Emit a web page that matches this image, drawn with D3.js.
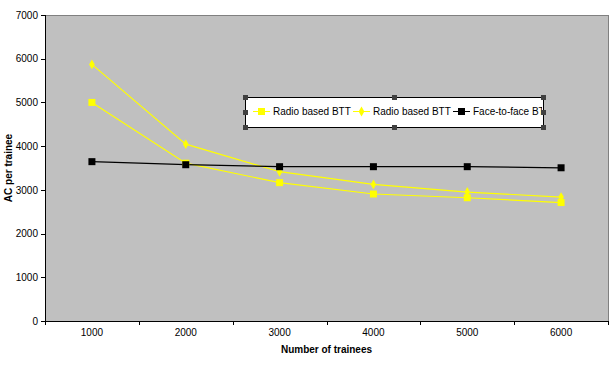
<!DOCTYPE html>
<html>
<head>
<meta charset="utf-8">
<script src="https://cdn.jsdelivr.net/npm/d3@7"></script>
<style>
  body { margin: 0; background: #fff; }
  svg { display: block; font-family: "Liberation Sans", Arial, sans-serif; }
</style>
</head>
<body>
<div id="chart"></div>
<script>
var categories = [1000, 2000, 3000, 4000, 5000, 6000];
var radioSquare = [5000, 3610, 3165, 2905, 2820, 2710];
var radioDiamond = [5870, 4045, 3415, 3125, 2950, 2835];
var faceToFace = [3645, 3575, 3530, 3530, 3530, 3505];
var yTicks = [0, 1000, 2000, 3000, 4000, 5000, 6000, 7000];
var legendLabels = ["Radio based BTT", "Radio based BTT", "Face-to-face BTT"];

var W = 614, H = 377;
var plot = {left: 45, top: 15, right: 608, bottom: 321};

var svg = d3.select("#chart").append("svg")
    .attr("width", W).attr("height", H);

var x = d3.scaleBand()
    .domain(categories)
    .range([plot.left, plot.right]);

var y = d3.scaleLinear()
    .domain([0, 7000])
    .range([plot.bottom, plot.top]);

// plot background
svg.append("rect")
    .attr("x", plot.left).attr("y", plot.top)
    .attr("width", plot.right - plot.left)
    .attr("height", plot.bottom - plot.top)
    .attr("fill", "#c0c0c0")
    .attr("stroke", "#808080")
    .attr("stroke-width", 1)
    .attr("shape-rendering", "crispEdges");

// y axis
var yAxis = svg.append("g")
    .attr("transform", "translate(" + plot.left + ",0)")
    .attr("shape-rendering", "crispEdges")
    .call(d3.axisLeft(y).tickValues(yTicks).tickSize(4).tickPadding(3).tickFormat(d3.format("d")));
yAxis.selectAll("text").attr("font-size", 10).attr("fill", "#000")
    .attr("font-family", "Liberation Sans, Arial, sans-serif");
yAxis.selectAll("line, path").attr("stroke", "#000");

// x axis: ticks at band boundaries, labels centred in bands
var xAxis = svg.append("g")
    .attr("transform", "translate(0," + plot.bottom + ")")
    .attr("shape-rendering", "crispEdges");
xAxis.append("line")
    .attr("x1", plot.left).attr("x2", plot.right)
    .attr("stroke", "#000");
var bounds = categories.map(function(c) { return x(c); }).concat([x.range()[1]]);
xAxis.selectAll("line.tick").data(bounds).enter().append("line")
    .attr("class", "tick")
    .attr("x1", function(d) { return Math.round(d) + 0.5; })
    .attr("x2", function(d) { return Math.round(d) + 0.5; })
    .attr("y1", 0).attr("y2", 4)
    .attr("stroke", "#000");
xAxis.selectAll("text").data(categories).enter().append("text")
    .attr("x", function(d) { return x(d) + x.bandwidth() / 2; })
    .attr("y", 15)
    .attr("text-anchor", "middle")
    .attr("font-size", 10)
    .text(function(d) { return d; });

// axis titles
svg.append("text")
    .attr("x", (plot.left + plot.right) / 2)
    .attr("y", 353)
    .attr("text-anchor", "middle")
    .attr("font-size", 10)
    .attr("font-weight", "bold")
    .text("Number of trainees");

svg.append("text")
    .attr("transform", "translate(12," + (plot.top + plot.bottom) / 2 + ") rotate(-90)")
    .attr("text-anchor", "middle")
    .attr("font-size", 10)
    .attr("font-weight", "bold")
    .text("AC per trainee");

var cx = function(d, i) { return x(categories[i]) + x.bandwidth() / 2; };
var line = d3.line()
    .x(function(d, i) { return cx(d, i); })
    .y(function(d) { return y(d); });

var series = [
  {values: radioSquare, color: "#ffff00", marker: "square"},
  {values: radioDiamond, color: "#ffff00", marker: "diamond"},
  {values: faceToFace, color: "#000000", marker: "square"}
];

var diamond = d3.symbol().type(d3.symbolDiamond).size(28);

series.forEach(function(s) {
  svg.append("path")
      .datum(s.values)
      .attr("d", line)
      .attr("fill", "none")
      .attr("stroke", s.color)
      .attr("stroke-width", 1.2);
});

series.forEach(function(s) {
  var g = svg.append("g");
  if (s.marker === "square") {
    g.selectAll("rect").data(s.values).enter().append("rect")
        .attr("x", function(d, i) { return cx(d, i) - 3.5; })
        .attr("y", function(d) { return y(d) - 3.5; })
        .attr("width", 7).attr("height", 7)
        .attr("fill", s.color);
  } else {
    g.selectAll("path").data(s.values).enter().append("path")
        .attr("transform", function(d, i) { return "translate(" + cx(d, i) + "," + y(d) + ")"; })
        .attr("d", diamond)
        .attr("fill", s.color);
  }
});

// legend box (selected, with handles)
var lg = {x: 245, y: 97, w: 298, h: 30};
var legend = svg.append("g");
legend.append("rect")
    .attr("x", lg.x + 0.5).attr("y", lg.y + 0.5)
    .attr("width", lg.w).attr("height", lg.h)
    .attr("fill", "#fff")
    .attr("stroke", "#000")
    .attr("stroke-width", 1);

svg.append("clipPath").attr("id", "lgclip")
    .append("rect").attr("x", lg.x).attr("y", lg.y).attr("width", lg.w - 1).attr("height", lg.h);

var items = legend.append("g").attr("clip-path", "url(#lgclip)");
var itemX = [253, 353, 453];
var legendMarkers = [
  {color: "#ffff00", marker: "square"},
  {color: "#ffff00", marker: "diamond"},
  {color: "#000000", marker: "square"}
];
legendLabels.forEach(function(label, i) {
  var ix = itemX[i], iy = lg.y + 14;
  var m = legendMarkers[i];
  items.append("line")
      .attr("x1", ix).attr("x2", ix + 17)
      .attr("y1", iy + 0.5).attr("y2", iy + 0.5)
      .attr("stroke", m.color).attr("stroke-width", 1);
  if (m.marker === "square") {
    items.append("rect")
        .attr("x", ix + 5).attr("y", iy - 3)
        .attr("width", 7).attr("height", 7)
        .attr("fill", m.color);
  } else {
    items.append("path")
        .attr("transform", "translate(" + (ix + 8.5) + "," + (iy + 0.5) + ")")
        .attr("d", diamond)
        .attr("fill", m.color);
  }
  items.append("text")
      .attr("x", ix + 20).attr("y", iy + 4)
      .attr("font-size", 10)
      .text(label);
});

// selection handles
var hx = [lg.x, lg.x + lg.w / 2, lg.x + lg.w];
var hy = [lg.y, lg.y + lg.h / 2, lg.y + lg.h];
hx.forEach(function(px, i) {
  hy.forEach(function(py, j) {
    if (i === 1 && j === 1) return;
    legend.append("rect")
        .attr("x", Math.round(px) - 2).attr("y", Math.round(py) - 2)
        .attr("width", 5).attr("height", 5)
        .attr("fill", "#404040");
  });
});
</script>
</body>
</html>
